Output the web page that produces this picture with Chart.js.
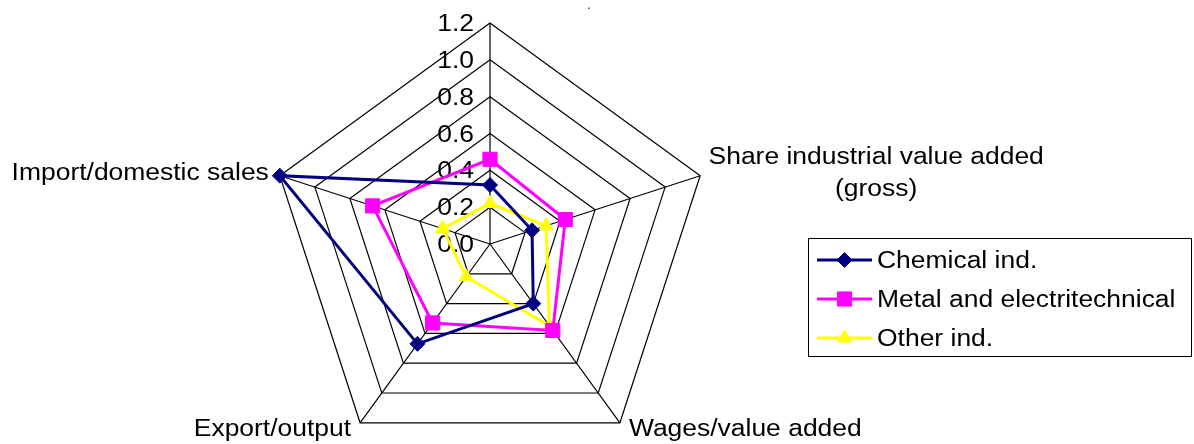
<!DOCTYPE html>
<html><head><meta charset="utf-8">
<style>html,body{margin:0;padding:0;background:#fff;overflow:hidden}canvas{display:block}</style>
<script src="https://cdn.jsdelivr.net/npm/chart.js@4/dist/chart.umd.min.js"></script>
</head><body>
<canvas id="c" width="1194" height="444"></canvas>
<script>
const categories = [".", ["Share industrial value added", "(gross)"], "Wages/value added", "Export/output", "Import/domestic sales"];
const seriesNames = ["Chemical ind.", "Metal and electritechnical", "Other ind."];
const chemical = [0.32, 0.24, 0.40, 0.67, 1.20];
const metal = [0.46, 0.43, 0.58, 0.53, 0.67];
const other = [0.22, 0.32, 0.55, 0.22, 0.27];
const tickLabels = ["0.0", "0.2", "0.4", "0.6", "0.8", "1.0", "1.2"];

const FONT = '23px "Liberation Sans", Arial, sans-serif';
const SX = 1.15;

function txt(ctx, s, x, y, align) {
  ctx.save();
  ctx.translate(x, y);
  ctx.scale(SX, 1);
  ctx.textAlign = align;
  ctx.textBaseline = 'alphabetic';
  ctx.fillText(s, 0, 0);
  ctx.restore();
}

const labelPlugin = {
  id: 'labelPlugin',
  beforeDatasetsDraw(chart) {
    const s = chart.scales.r, ctx = chart.ctx;
    ctx.save();
    ctx.fillStyle = '#000';
    ctx.font = FONT;
    s.ticks.forEach((t, i) => {
      const y = s.yCenter - s.getDistanceFromCenterForValue(t.value);
      txt(ctx, tickLabels[i], s.xCenter - 16, y + 8, 'right');
    });
    ctx.restore();
  },
  afterDraw(chart) {
    const s = chart.scales.r, ctx = chart.ctx;
    ctx.save();
    ctx.fillStyle = '#000';
    ctx.font = FONT;
    const labels = chart.data.labels;
    const v = labels.map((l, i) => s.getPointPosition(i, s.drawingArea));
    ctx.font = '12px "Liberation Sans", Arial, sans-serif';
    ctx.textAlign = 'center';
    ctx.fillText(labels[0], v[0].x + 99, v[0].y - 14);
    ctx.font = FONT;
    txt(ctx, labels[1][0], v[1].x + 176, v[1].y - 12, 'center');
    txt(ctx, labels[1][1], v[1].x + 176, v[1].y + 20, 'center');
    txt(ctx, labels[2], v[2].x + 9, v[2].y + 13, 'left');
    txt(ctx, labels[3], v[3].x - 9, v[3].y + 13, 'right');
    txt(ctx, labels[4], v[4].x - 11, v[4].y + 4, 'right');

    const L = 808.5, T = 238.5, W = 383, H = 118;
    ctx.lineWidth = 1;
    ctx.strokeStyle = '#000';
    ctx.strokeRect(L, T, W, H);
    const rows = [260, 299, 338];
    chart.data.datasets.forEach((ds, i) => {
      const y = rows[i];
      ctx.strokeStyle = ds.borderColor;
      ctx.lineWidth = ds.borderWidth;
      ctx.beginPath();
      ctx.moveTo(817, y);
      ctx.lineTo(872, y);
      ctx.stroke();
      ctx.fillStyle = ds.pointBackgroundColor;
      ctx.strokeStyle = ds.pointBorderColor;
      ctx.lineWidth = 1;
      Chart.helpers.drawPoint(ctx, {pointStyle: ds.pointStyle, radius: ds.pointRadius, rotation: 0, borderWidth: 1}, 844.5, y);
      ctx.fillStyle = '#000';
      txt(ctx, ds.label, 877, y + 8.3, 'left');
    });
    ctx.restore();
  }
};

new Chart(document.getElementById('c'), {
  type: 'radar',
  data: {
    labels: categories,
    datasets: [
      {label: seriesNames[0], data: chemical, borderColor: '#000080', backgroundColor: 'rgba(0,0,0,0)', fill: false, borderWidth: 3,
       pointStyle: 'rectRot', pointRadius: 7.5, pointBackgroundColor: '#000080', pointBorderColor: '#000080', pointBorderWidth: 1},
      {label: seriesNames[1], data: metal, borderColor: '#FF00FF', backgroundColor: 'rgba(0,0,0,0)', fill: false, borderWidth: 3,
       pointStyle: 'rect', pointRadius: 10, pointBackgroundColor: '#FF00FF', pointBorderColor: '#FF00FF', pointBorderWidth: 1},
      {label: seriesNames[2], data: other, borderColor: '#FFFF00', backgroundColor: 'rgba(0,0,0,0)', fill: false, borderWidth: 3,
       pointStyle: 'triangle', pointRadius: 8, pointBackgroundColor: '#FFFF00', pointBorderColor: '#FFFF00', pointBorderWidth: 1}
    ]
  },
  options: {
    responsive: false,
    animation: false,
    events: [],
    elements: {line: {tension: 0}},
    plugins: {legend: {display: false}, tooltip: {enabled: false}},
    scales: {
      r: {
        min: 0, max: 1.2,
        ticks: {stepSize: 0.2, display: false},
        grid: {color: '#000', lineWidth: 1.2},
        angleLines: {color: '#000', lineWidth: 1.2},
        pointLabels: {display: false},
        afterFit(scale) {
          scale.xCenter = 490;
          scale.yCenter = 244;
          scale.drawingArea = 221;
        }
      }
    }
  },
  plugins: [labelPlugin]
});
</script>
</body></html>
